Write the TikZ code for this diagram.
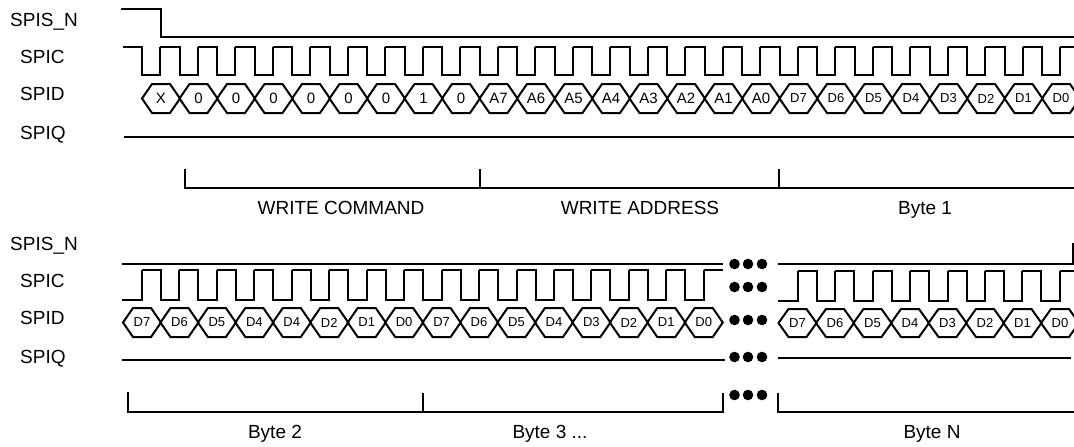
\documentclass[tikz,border=0pt]{standalone}
\usepackage{fontspec}
\setmainfont{Liberation Sans}
\tikzset{
  wave/.style={line width=2pt},
  sig/.style={anchor=base west,inner sep=0pt,font=\fontsize{19}{19}\selectfont},
  cap text/.style={anchor=base,inner sep=0pt,font=\fontsize{19}{19}\selectfont},
  bit/.style={inner sep=0pt,font=\fontsize{15}{15}\selectfont},
  small bit/.style={inner sep=0pt,font=\fontsize{13}{13}\selectfont},
  dot/.style={fill=black,draw=none}
}
\begin{document}
\begin{tikzpicture}[x=1pt,y=-1pt, line join=miter, line cap=butt]
  \useasboundingbox (0,0) rectangle (1074,447);
  \clip (0,0) rectangle (1074,447);
  % signal names, upper part
  \node[sig] (sn1) at (10,26.5) {SPIS\_N};
  \node[sig] (sc1) at (20,63.5) {SPIC};
  \node[sig] (sd1) at (20,100.5) {SPID};
  \node[sig] (sq1) at (20,139.5) {SPIQ};
  % waves, upper part
  \draw[wave] (121,9)--(161,9)--(161,37)--(1074,37);
  \draw[wave] (123,47)--(142,47)--(142,75)--(160,75)--(160,47);
  \foreach \k in {0,...,23}
    \draw[wave] (160+37.5*\k,47)--(179.5+37.5*\k,47)--(179.5+37.5*\k,75)--(197.5+37.5*\k,75)--(197.5+37.5*\k,47);
  \draw[wave] (1060,47)--(1074,47);
  \foreach \t/\s [count=\i from 0] in {X/bit,0/bit,0/bit,0/bit,0/bit,0/bit,0/bit,1/bit,0/bit,A7/bit,A6/bit,A5/bit,A4/bit,A3/bit,A2/bit,A1/bit,A0/bit,D7/small bit,D6/small bit,D5/small bit,D4/small bit,D3/small bit,D2/small bit,D1/small bit,D0/small bit}{
    \draw[wave] (142+37.5*\i,98.5)--(152+37.5*\i,84)--(170+37.5*\i,84)--(180+37.5*\i,98.5)--(170+37.5*\i,113)--(152+37.5*\i,113)--cycle;
    \node[\s] (a\i) at (161+37.5*\i,98.5) {\t};
  }
  \draw[wave] (124,137)--(1074,137);
  % brackets, upper part
  \draw[wave] (184.5,169)--(184.5,188)--(1074,188);
  \draw[wave] (479.5,169)--(479.5,188);
  \draw[wave] (779,169)--(779,188);
  \node[cap text] (cmd) at (341,214) {WRITE COMMAND};
  \node[cap text] (adr) at (640,214) {WRITE ADDRESS};
  \node[cap text] (by1) at (925,214) {Byte 1};
  % signal names, lower part
  \node[sig] (sn2) at (10,250) {SPIS\_N};
  \node[sig] (sc2) at (20,287.5) {SPIC};
  \node[sig] (sd2) at (20,324.5) {SPID};
  \node[sig] (sq2) at (20,363.5) {SPIQ};
  % waves, lower part
  \draw[wave] (122,264)--(723,264);
  \draw[wave] (778,264)--(1073,264)--(1073,243);
  \draw[wave] (122,300)--(142,300)--(142,270);
  \foreach \k in {0,...,14}
    \draw[wave] (142+37.45*\k,270)--(161+37.45*\k,270)--(161+37.45*\k,300)--(179.45+37.45*\k,300)--(179.45+37.45*\k,270);
  \draw[wave] (703.75,270)--(723,270);
  \draw[wave] (778,301)--(798,301)--(798,271);
  \foreach \k in {0,...,6}
    \draw[wave] (798+37.4*\k,271)--(817+37.4*\k,271)--(817+37.4*\k,301)--(835.4+37.4*\k,301)--(835.4+37.4*\k,271);
  \draw[wave] (1059.8,271)--(1074,271);
  \foreach \t [count=\i from 0] in {D7,D6,D5,D4,D4,D2,D1,D0,D7,D6,D5,D4,D3,D2,D1,D0}{
    \draw[wave] (123+37.45*\i,322.5)--(133+37.45*\i,308)--(151+37.45*\i,308)--(161+37.45*\i,322.5)--(151+37.45*\i,337)--(133+37.45*\i,337)--cycle;
    \node[small bit] (b\i) at (142+37.45*\i,322.5) {\t};
  }
  \foreach \t [count=\i from 0] in {D7,D6,D5,D4,D3,D2,D1,D0}{
    \draw[wave] (778.5+37.5*\i,323)--(788.5+37.5*\i,309)--(806.5+37.5*\i,309)--(816.5+37.5*\i,323)--(806.5+37.5*\i,337)--(788.5+37.5*\i,337)--cycle;
    \node[small bit] (c\i) at (797.5+37.5*\i,323) {\t};
  }
  \draw[wave] (122,360)--(725,360);
  \draw[wave] (778,358)--(1071,358);
  % brackets, lower part
  \draw[wave] (128,392)--(128,412)--(723,412)--(723,393);
  \draw[wave] (423,393)--(423,412);
  \draw[wave] (778,393)--(778,412)--(1074,412);
  \node[cap text] (by2) at (275,438.5) {Byte 2};
  \node[cap text] (by3) at (550,438.5) {Byte 3 ...};
  \node[cap text] (byn) at (932,438.5) {Byte N};
  % the three dots of each row
  \foreach \y in {264,287,320,357,395}
    \foreach \x in {734.5,748,762}
      \fill[dot] (\x,\y) circle (5.3);
\end{tikzpicture}
\end{document}
